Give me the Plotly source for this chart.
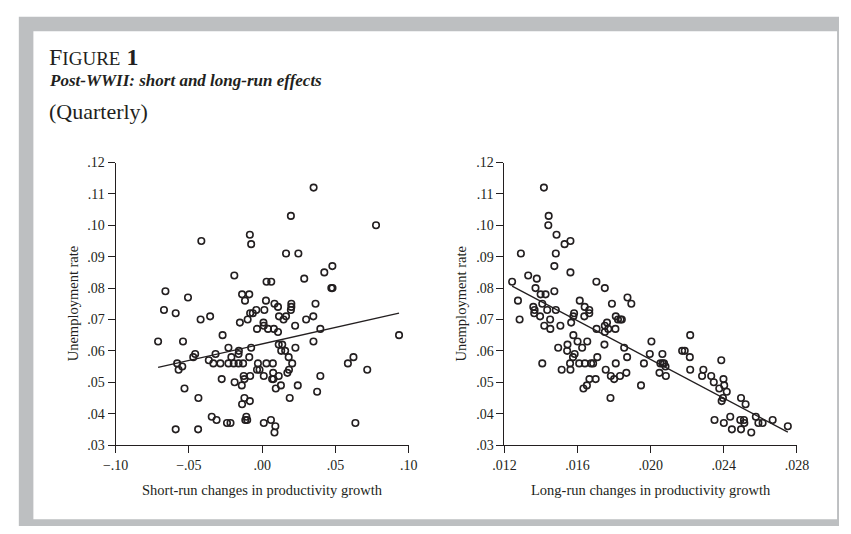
import numpy as np
import plotly.graph_objects as go

# unemployment rate vs short-run changes in productivity growth (left panel)
sr_change = [
    -0.071, -0.066, -0.067, -0.059, -0.054, -0.0506, -0.0415, -0.042, -0.0355, -0.027,
    -0.019, -0.0137, -0.0088, -0.0117, -0.0152, -0.0099, -0.0082, -0.0064, -0.004, -0.0084,
    -0.0075, -0.0035, 0.0009, 0.0015, 0.0011, 0.0026, 0.003, 0.0062, 0.004, 0.008,
    0.0084, 0.0108, 0.0108, 0.0115, 0.0146, 0.0163, 0.0163, 0.0196, 0.0199, 0.0199,
    0.0196, 0.0225, 0.0247, 0.0287, 0.030, 0.0351, 0.0349, 0.0364, 0.0397, 0.0424,
    0.0479, 0.0472, 0.048, 0.0777, 0.0934, 0.035, 0.0113, 0.0137, -0.023, -0.0457,
    -0.047, -0.058, -0.057, -0.0545, -0.053, -0.0435, -0.059, -0.0437, -0.0364, -0.0333,
    -0.0318, -0.0285, -0.0276, -0.023, -0.021, -0.0194, -0.0161, -0.013, -0.0188, -0.0161,
    -0.0159, -0.0139, -0.0126, -0.0121, -0.0082, -0.0088, -0.0075, -0.0121, -0.0137, -0.0084,
    -0.0344, -0.0311, -0.024, -0.0216, -0.0108, -0.0115, -0.0102, 0.0011, 0.006, 0.009,
    0.0084, -0.0035, -0.0018, -0.0029, 0.0029, 0.0073, 0.0011, 0.0075, 0.0068, 0.0077,
    0.0093, 0.0113, 0.0128, 0.013, 0.0157, 0.0181, 0.0183, 0.0172, 0.0205, 0.0227,
    0.0243, 0.0188, 0.0375, 0.0397, 0.0585, 0.0623, 0.0636, 0.0717,
]
sr_unemp = [
    0.063, 0.079, 0.073, 0.072, 0.063, 0.077, 0.095, 0.070, 0.071, 0.065,
    0.084, 0.078, 0.078, 0.076, 0.069, 0.070, 0.072, 0.072, 0.073, 0.097,
    0.094, 0.067, 0.069, 0.073, 0.068, 0.076, 0.082, 0.082, 0.067, 0.067,
    0.075, 0.074, 0.066, 0.071, 0.070, 0.071, 0.091, 0.103, 0.075, 0.074,
    0.073, 0.068, 0.091, 0.083, 0.070, 0.112, 0.071, 0.075, 0.067, 0.085,
    0.087, 0.080, 0.080, 0.100, 0.065, 0.063, 0.062, 0.062, 0.061, 0.059,
    0.058, 0.056, 0.054, 0.055, 0.048, 0.045, 0.035, 0.035, 0.057, 0.056,
    0.059, 0.056, 0.051, 0.056, 0.058, 0.056, 0.056, 0.056, 0.050, 0.059,
    0.060, 0.049, 0.052, 0.051, 0.052, 0.058, 0.061, 0.045, 0.043, 0.044,
    0.039, 0.038, 0.037, 0.037, 0.039, 0.038, 0.038, 0.037, 0.038, 0.036,
    0.034, 0.054, 0.054, 0.056, 0.056, 0.056, 0.052, 0.053, 0.051, 0.051,
    0.048, 0.052, 0.049, 0.060, 0.060, 0.058, 0.054, 0.053, 0.056, 0.061,
    0.049, 0.045, 0.047, 0.052, 0.056, 0.058, 0.037, 0.054,
]

# unemployment rate vs long-run changes in productivity growth (right panel)
lr_change = [
    0.01242, 0.01274, 0.01283, 0.0129, 0.0133, 0.01377, 0.01358, 0.01365, 0.01363, 0.0137,
    0.01398, 0.01425, 0.01407, 0.01395, 0.01416, 0.01434, 0.01418, 0.01442, 0.0144, 0.0145,
    0.01451, 0.01473, 0.01473, 0.01481, 0.01485, 0.01481, 0.01506, 0.01529, 0.01561, 0.01561,
    0.01565, 0.01577, 0.01581, 0.01577, 0.016, 0.01545, 0.01612, 0.01639, 0.01637, 0.01664,
    0.01664, 0.01653, 0.01703, 0.01704, 0.01749, 0.01749, 0.01761, 0.01749, 0.01768, 0.01788,
    0.01747, 0.01809, 0.01821, 0.01835, 0.01842, 0.01807, 0.01873, 0.01894, 0.02004, 0.02216,
    0.01407, 0.01494, 0.01513, 0.01543, 0.01559, 0.01561, 0.01575, 0.01584, 0.01609, 0.01625,
    0.01632, 0.0164, 0.01651, 0.01665, 0.01674, 0.01685, 0.01699, 0.01708, 0.01754, 0.0178,
    0.01782, 0.018, 0.01809, 0.01832, 0.01855, 0.01867, 0.01871, 0.01947, 0.01963, 0.01995,
    0.02048, 0.02053, 0.02065, 0.02073, 0.02064, 0.02081, 0.02083, 0.02172, 0.02186, 0.02214,
    0.02216, 0.02281, 0.02288, 0.02331, 0.02345, 0.02349, 0.02375, 0.02386, 0.02388, 0.02395,
    0.02398, 0.02402, 0.02416, 0.024, 0.02435, 0.02444, 0.02494, 0.0249, 0.0251, 0.02512,
    0.02519, 0.02494, 0.0255, 0.02575, 0.02589, 0.02612, 0.02667, 0.0275,
]
lr_unemp = [
    0.082, 0.076, 0.070, 0.091, 0.084, 0.083, 0.074, 0.073, 0.072, 0.080,
    0.078, 0.078, 0.075, 0.071, 0.112, 0.073, 0.068, 0.103, 0.100, 0.070,
    0.067, 0.087, 0.079, 0.091, 0.097, 0.073, 0.068, 0.094, 0.095, 0.085,
    0.069, 0.071, 0.072, 0.065, 0.063, 0.062, 0.076, 0.074, 0.071, 0.073,
    0.072, 0.063, 0.082, 0.067, 0.080, 0.068, 0.069, 0.066, 0.067, 0.075,
    0.062, 0.071, 0.070, 0.070, 0.070, 0.067, 0.077, 0.075, 0.063, 0.065,
    0.056, 0.061, 0.054, 0.060, 0.056, 0.054, 0.058, 0.059, 0.056, 0.061,
    0.048, 0.056, 0.049, 0.051, 0.056, 0.056, 0.051, 0.058, 0.054, 0.045,
    0.052, 0.051, 0.056, 0.052, 0.061, 0.053, 0.058, 0.049, 0.056, 0.059,
    0.053, 0.056, 0.056, 0.056, 0.059, 0.055, 0.052, 0.060, 0.060, 0.058,
    0.054, 0.052, 0.054, 0.052, 0.050, 0.038, 0.048, 0.057, 0.044, 0.045,
    0.051, 0.049, 0.047, 0.037, 0.039, 0.035, 0.045, 0.038, 0.038, 0.037,
    0.043, 0.035, 0.034, 0.039, 0.037, 0.037, 0.038, 0.036,
]

y_ticks = [0.03, 0.04, 0.05, 0.06, 0.07, 0.08, 0.09, 0.10, 0.11, 0.12]
y_labels = ['.03', '.04', '.05', '.06', '.07', '.08', '.09', '.10', '.11', '.12']
sr_ticks = [-0.10, -0.05, 0.0, 0.05, 0.10]
sr_labels = ['\u2212.10', '\u2212.05', '.00', '.05', '.10']
lr_ticks = [0.012, 0.016, 0.020, 0.024, 0.028]
lr_labels = ['.012', '.016', '.020', '.024', '.028']

INK = '#231f20'
FRAME = '#bdbfc1'
SERIF = 'Liberation Serif, Times New Roman, serif'
W, H = 851, 534


def px_x(p):
    return p / W


def px_y(p):
    return 1 - p / H


def fit_line(x, y):
    # least-squares line over the observed range
    b, a = np.polyfit(x, y, 1)
    xs = np.array([min(x), max(x)])
    return xs, a + b * xs


fig = go.Figure()

marker = dict(symbol='circle-open', size=6.5, color=INK, line=dict(width=1.6, color=INK))

fig.add_trace(go.Scatter(x=sr_change, y=sr_unemp, mode='markers', marker=marker,
                         xaxis='x', yaxis='y'))
lx, ly = fit_line(sr_change, sr_unemp)
fig.add_trace(go.Scatter(x=lx, y=ly, mode='lines', line=dict(color=INK, width=1.3),
                         xaxis='x', yaxis='y'))

fig.add_trace(go.Scatter(x=lr_change, y=lr_unemp, mode='markers', marker=marker,
                         xaxis='x2', yaxis='y2'))
lx2, ly2 = fit_line(lr_change, lr_unemp)
fig.add_trace(go.Scatter(x=lx2, y=ly2, mode='lines', line=dict(color=INK, width=1.3),
                         xaxis='x2', yaxis='y2'))

axis_common = dict(showline=True, linecolor=INK, linewidth=1, ticks='outside', ticklen=7,
                   tickcolor=INK, tickwidth=1, showgrid=False, zeroline=False,
                   tickfont=dict(family=SERIF, size=14, color=INK))
y_dom = [px_y(450.7), px_y(160)]

fig.update_layout(
    width=W, height=H,
    margin=dict(l=0, r=0, t=0, b=0),
    paper_bgcolor='white',
    plot_bgcolor='rgba(0,0,0,0)',
    showlegend=False,
    xaxis=dict(domain=[px_x(105.7), px_x(407.7)], range=[-0.10, 0.10], anchor='y',
               tickvals=sr_ticks, ticktext=sr_labels, **axis_common),
    yaxis=dict(domain=y_dom, range=[0.03, 0.12], anchor='x',
               tickvals=y_ticks, ticktext=y_labels, **axis_common),
    xaxis2=dict(domain=[px_x(506.3), px_x(807.7)], range=[0.012, 0.028], anchor='y2',
                tickvals=lr_ticks, ticktext=lr_labels, **axis_common),
    yaxis2=dict(domain=y_dom, range=[0.03, 0.12], anchor='x2',
                tickvals=y_ticks, ticktext=y_labels, **axis_common),
    shapes=[
        dict(type='rect', xref='paper', yref='paper', layer='below',
             x0=px_x(6), x1=1, y0=0, y1=px_y(10), fillcolor=FRAME, line=dict(width=0)),
        dict(type='rect', xref='paper', yref='paper', layer='below',
             x0=px_x(21), x1=px_x(849), y0=px_y(527), y1=px_y(25),
             fillcolor='white', line=dict(width=0)),
    ],
)

# heading
heads = [
    ('F<span style="font-size:19px">IGURE</span> <b>1</b>', 51, 24),
    ('<b><i>Post-WWII: short and long-run effects</i></b>', 76, 17),
    ('(Quarterly)', 107.5, 22),
]
for txt, yc, fs in heads:
    fig.add_annotation(text=txt, xref='paper', yref='paper', x=px_x(35), y=px_y(yc),
                       xanchor='left', yanchor='middle', showarrow=False,
                       font=dict(family=SERIF, size=fs, color=INK))

# axis titles
for txt, xc, yc, ang in [
    ('Unemployment rate', 62.7, 305, -90),
    ('Unemployment rate', 461.7, 305, -90),
    ('Short-run changes in productivity growth', 256.7, 497, 0),
    ('Long-run changes in productivity growth', 657, 497, 0),
]:
    fig.add_annotation(text=txt, xref='paper', yref='paper', x=px_x(xc), y=px_y(yc),
                       xanchor='center', yanchor='middle', showarrow=False, textangle=ang,
                       font=dict(family=SERIF, size=14.5, color=INK))

fig.write_html("out.html", config={'displayModeBar': False},
               post_script="document.body.style.margin='0';document.body.style.overflow='hidden';")
